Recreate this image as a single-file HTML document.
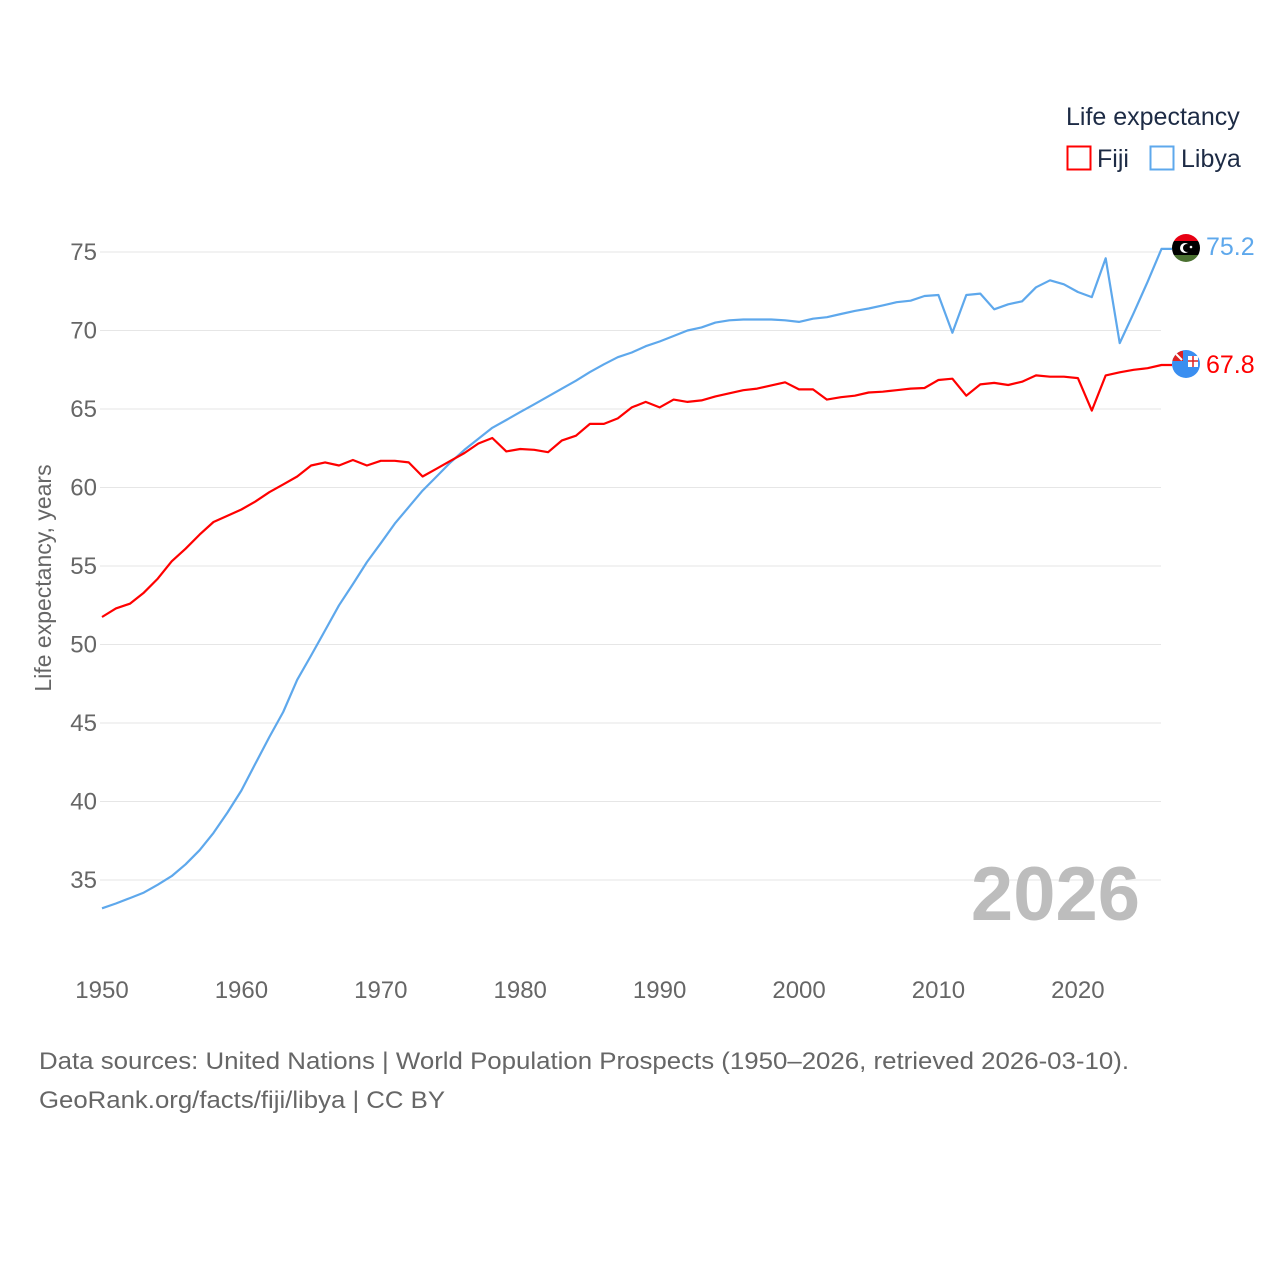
<!DOCTYPE html>
<html><head><meta charset="utf-8"><style>
html,body{margin:0;padding:0;background:#fff;}
body{width:1280px;height:1280px;overflow:hidden;font-family:"Liberation Sans",sans-serif;}
svg text{font-family:"Liberation Sans",sans-serif;}
</style></head><body>
<svg id="chart" width="1280" height="1280" viewBox="0 0 1280 1280" xmlns="http://www.w3.org/2000/svg">
<g>
<text x="1066" y="125" font-size="25" fill="#1d2b45">Life expectancy</text>
<g><rect x="1067.5" y="146.5" width="23" height="23" fill="none" stroke="#ff0000" stroke-width="2"/><text x="1097" y="167" font-size="25" fill="#1d2b45">Fiji</text></g>
<g><rect x="1150.5" y="146.5" width="23" height="23" fill="none" stroke="#5ea8ec" stroke-width="2"/><text x="1181" y="167" font-size="25" fill="#1d2b45">Libya</text></g>
</g>
<g id="grid"></g>
<g id="yticks"></g>
<g id="xticks"></g>
<text transform="translate(51,578) rotate(-90)" text-anchor="middle" font-size="23" fill="#666">Life expectancy, years</text>
<text x="1140" y="920" text-anchor="end" font-size="76" font-weight="bold" fill="#bdbdbd">2026</text>
<g id="series"></g>
<g>
<clipPath id="cl"><circle cx="1186" cy="248" r="14"/></clipPath>
<g clip-path="url(#cl)"><rect x="1170" y="233" width="32" height="8" fill="#e70013"/><rect x="1170" y="241" width="32" height="14" fill="#000"/><rect x="1170" y="255" width="32" height="10" fill="#4a7030"/></g>
<circle cx="1185" cy="248" r="5" fill="#fff"/><circle cx="1187" cy="248" r="4" fill="#000"/><circle cx="1191" cy="247" r="1.3" fill="#fff"/>
</g>
<g>
<clipPath id="cf"><circle cx="1186" cy="364" r="14"/></clipPath>
<g clip-path="url(#cf)"><rect x="1170" y="349" width="32" height="32" fill="#3a8ef0"/><rect x="1172" y="351" width="11" height="10" fill="#d22"/><line x1="1174" y1="352" x2="1182" y2="360" stroke="#fff" stroke-width="2"/><rect x="1188" y="356" width="10" height="11" fill="#fff"/><path d="M1193 356v11M1188 361h10" stroke="#d22" stroke-width="1.5"/></g>
</g>
<g>
<text x="39" y="1069" font-size="24" fill="#666" textLength="1090" lengthAdjust="spacingAndGlyphs">Data sources: United Nations | World Population Prospects (1950–2026, retrieved 2026-03-10).</text>
<text x="39" y="1108" font-size="24" fill="#666" textLength="406" lengthAdjust="spacingAndGlyphs">GeoRank.org/facts/fiji/libya | CC BY</text>
</g>
</svg>
<script>
const years = [];
for (let y = 1950; y <= 2026; y++) years.push(y);
const fiji = [51.75,52.3,52.6,53.3,54.2,55.3,56.1,57.0,57.8,58.2,58.6,59.1,59.7,60.2,60.7,61.4,61.6,61.4,61.75,61.4,61.7,61.7,61.6,60.7,61.2,61.7,62.2,62.8,63.15,62.3,62.45,62.4,62.25,63.0,63.3,64.05,64.05,64.4,65.1,65.45,65.1,65.6,65.45,65.55,65.8,66.0,66.2,66.3,66.5,66.7,66.25,66.25,65.6,65.75,65.85,66.05,66.1,66.2,66.3,66.34,66.85,66.93,65.85,66.57,66.66,66.53,66.74,67.14,67.06,67.06,66.97,64.9,67.14,67.34,67.5,67.6,67.8];
const libya = [33.2,33.5,33.85,34.2,34.7,35.25,36.0,36.9,38.0,39.3,40.7,42.4,44.1,45.7,47.75,49.3,50.9,52.5,53.85,55.25,56.45,57.7,58.75,59.8,60.7,61.6,62.4,63.1,63.8,64.3,64.8,65.3,65.8,66.3,66.8,67.35,67.85,68.3,68.6,69.0,69.3,69.65,70.0,70.2,70.5,70.65,70.7,70.7,70.7,70.65,70.55,70.75,70.85,71.05,71.25,71.4,71.6,71.8,71.9,72.2,72.26,69.86,72.26,72.35,71.35,71.67,71.86,72.75,73.2,72.94,72.45,72.13,74.6,69.2,71.1,73.1,75.2];
const yTicks = [35,40,45,50,55,60,65,70,75];
const xTicks = [1950,1960,1970,1980,1990,2000,2010,2020];
const lastLabels = ["67.8","75.2"];

const NS = "http://www.w3.org/2000/svg";
const X = yr => 102 + (yr - 1950) * (1161.5 - 102) / 76;
const Y = v => 252 + (75 - v) * 15.7;
function mk(tag, attrs, parent) { const e = document.createElementNS(NS, tag); for (const k in attrs) e.setAttribute(k, attrs[k]); parent.appendChild(e); return e; }

const grid = document.getElementById('grid'), yt = document.getElementById('yticks'), xt = document.getElementById('xticks'), ser = document.getElementById('series');
yTicks.forEach(v => {
  const l = mk('line', {x1: 100, x2: 1161, y1: Y(v), y2: Y(v), stroke: '#e6e6e6', 'stroke-width': 1}, grid);
  
  
  const t = mk('text', {x: 97, y: Y(v) + 8, 'text-anchor': 'end', 'font-size': 24, fill: '#666'}, yt);
  t.textContent = v;
  
  
});
xTicks.forEach(v => {
  const t = mk('text', {x: X(v), y: 998, 'text-anchor': 'middle', 'font-size': 24, fill: '#666'}, xt);
  t.textContent = v;
  
  
});
function line(vals, color, name) {
  const d = vals.map((v, i) => (i ? 'L' : 'M') + X(years[i]).toFixed(1) + ' ' + Y(v).toFixed(1)).join(' ') + ' H1172';
  const p = mk('path', {d: d, fill: 'none', stroke: color, 'stroke-width': 2.2, 'stroke-linejoin': 'round'}, ser);
  
  
}
line(libya, '#5ea8ec', 'libya-line');
line(fiji, '#ff0000', 'fiji-line');
const t1 = mk('text', {x: 1206, y: Y(fiji[fiji.length-1]) + 8, 'font-size': 25, fill: '#ff0000'}, ser);
t1.textContent = lastLabels[0];


const t2 = mk('text', {x: 1206, y: Y(libya[libya.length-1]) + 6, 'font-size': 25, fill: '#5ea8ec'}, ser);
t2.textContent = lastLabels[1];


</script>
</body></html>
